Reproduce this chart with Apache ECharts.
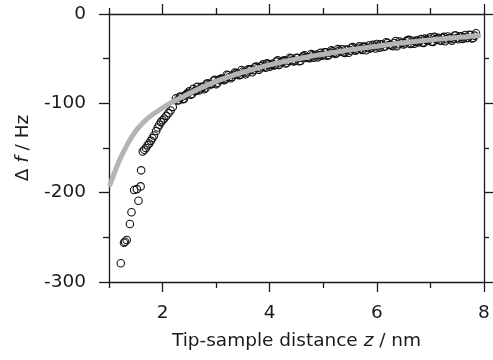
<!DOCTYPE html>
<html>
<head>
<meta charset="utf-8">
<script src="https://cdn.jsdelivr.net/npm/echarts@6/dist/echarts.min.js"></script>
<style>html,body{margin:0;padding:0;background:#fff;}#c{width:493px;height:360px;}</style>
</head>
<body>
<div id="c"></div>
<script>
// Measured Δf data (z in nm, Δf in Hz)
const nearZ = [1.22,1.28,1.30,1.33,1.39,1.42,1.47,1.52,1.55,1.59,1.60,1.63,1.66,1.69,1.72,1.75,1.78,1.81,1.84,1.88,1.91,1.94,1.97,2.00,2.03,2.07,2.11,2.15,2.19];
const nearDf = [-279,-256,-255,-253,-235,-222,-197,-196,-209,-193,-175,-154,-152,-150,-147,-145,-142,-139,-136,-131,-127,-124,-121,-119,-117,-114,-111,-108,-104];

const farZ = [2.25,2.30,2.35,2.40,2.45,2.50,2.55,2.60,2.65,2.70,2.75,2.80,2.85,2.90,2.95,3.00,3.05,3.10,3.15,3.20,3.25,3.30,3.35,3.40,3.45,3.50,3.55,3.60,3.65,3.70,3.75,3.80,3.85,3.90,3.95,4.00,4.05,4.10,4.15,4.20,4.25,4.30,4.35,4.40,4.45,4.50,4.55,4.60,4.65,4.70,4.75,4.80,4.85,4.90,4.95,5.00,5.05,5.10,5.15,5.20,5.25,5.30,5.35,5.40,5.45,5.50,5.55,5.60,5.65,5.70,5.75,5.80,5.85,5.90,5.95,6.00,6.05,6.10,6.15,6.20,6.25,6.30,6.35,6.40,6.45,6.50,6.55,6.60,6.65,6.70,6.75,6.80,6.85,6.90,6.95,7.00,7.05,7.10,7.15,7.20,7.25,7.30,7.35,7.40,7.45,7.50,7.55,7.60,7.65,7.70,7.75,7.80,7.85];
const farDf = [-94.5,-96.5,-93,-95,-89.5,-86.5,-89.5,-86.5,-81.6,-84.3,-81.9,-83,-77.8,-79,-74.8,-78.5,-73.9,-72.3,-74.1,-68,-70.5,-70.5,-65.5,-67,-68.1,-64.3,-67.4,-62,-62.1,-62.8,-58.9,-62.5,-58.3,-59,-55.3,-59,-55.8,-57.1,-51.9,-55.2,-52.5,-55.4,-52.3,-49.7,-53.1,-49,-52.9,-48.8,-46.2,-49.1,-49.5,-46,-46.5,-48.5,-43.5,-46,-43,-46,-40.5,-43.5,-44,-41,-39.5,-43.5,-40,-41,-37.1,-41.2,-37.8,-38.9,-36.5,-40.6,-35.2,-37.8,-36.4,-33.5,-37.6,-34.2,-36.3,-32.4,-34.5,-36.1,-30.3,-33.9,-32.1,-34.2,-30.4,-29,-32.7,-33.3,-29.5,-30.2,-31.9,-27.6,-30.3,-26,-31.2,-27.9,-26.7,-29.9,-25.6,-28.3,-27.1,-29.8,-24.1,-26.8,-25,-27.8,-23.5,-26.8,-23.5,-26.8,-21.5];

const farZ2 = [2.275,2.325,2.375,2.425,2.475,2.525,2.575,2.625,2.675,2.725,
  2.775,2.825,2.875,2.925,2.975,3.025,3.075,3.125,3.175,3.225,
  3.275,3.325,3.375,3.425,3.475,3.525,3.575,3.625,3.675,3.725,
  3.775,3.825,3.875,3.925,3.975,4.025,4.075,4.125,4.175,4.225,
  4.275,4.325,4.375,4.425,4.475,4.525,4.575,4.625,4.675,4.725,
  4.775,4.825,4.875,4.925,4.975,5.025,5.075,5.125,5.175,5.225,
  5.275,5.325,5.375,5.425,5.475,5.525,5.575,5.625,5.675,5.725,
  5.775,5.825,5.875,5.925,5.975,6.025,6.075,6.125,6.175,6.225,
  6.275,6.325,6.375,6.425,6.475,6.525,6.575,6.625,6.675,6.725,
  6.775,6.825,6.875,6.925,6.975,7.025,7.075,7.125,7.175,7.225,
  7.275,7.325,7.375,7.425,7.475,7.525,7.575,7.625,7.675,7.725,
  7.775,7.825];
const farDf2 = [-96.8,-92.3,-95.3,-90.8,-88.3,-90.3,-83.8,-85.8,-85.5,-81.6,
  -84.2,-77.9,-78.7,-78.4,-73.7,-77,-72.9,-73.2,-73.1,-68.5,
  -72,-68,-66,-68.6,-62.7,-65.4,-65.5,-62,-65.2,-59.4,
  -60.5,-60.7,-56.4,-60.2,-56.4,-57.2,-57.5,-53.3,-57,-53.4,
  -51.7,-54.6,-49,-51.9,-52.3,-49.2,-52.6,-47,-48.4,-48.8,
  -44.8,-48.8,-45.3,-46.3,-46.8,-42.8,-46.8,-43.3,-41.8,-44.8,
  -39.3,-42.3,-42.8,-39.8,-43.3,-37.8,-39.4,-40,-36.1,-40.2,
  -36.8,-37.9,-38.5,-34.6,-38.7,-35.3,-33.9,-37,-31.6,-34.7,
  -35.3,-32.5,-36.1,-30.8,-32.4,-33.1,-29.2,-33.4,-30,-31.2,
  -31.9,-28.1,-32.3,-29,-27.7,-30.9,-25.6,-28.8,-29.6,-26.8,
  -30.5,-25.2,-27,-27.7,-24,-28.2,-24.9,-26.2,-26.9,-23.2,
  -27.4,-24.2];

// Fitted curve
const fitZ = [1.02,1.1,1.2,1.3,1.4,1.5,1.6,1.7,1.8,1.9,2.0,2.1,2.2,2.4,2.6,2.8,3.0,3.2,3.4,3.6,3.8,4.0,4.25,4.5,4.75,5.0,5.25,5.5,5.75,6.0,6.25,6.5,6.75,7.0,7.25,7.5,7.75,7.9];
const fitDf = [-191,-178,-163,-151,-140,-131,-124,-118,-113,-109,-105,-101.5,-98,-92,-86,-80.5,-75.5,-71,-67,-63.5,-60,-57,-53.5,-50.5,-47.5,-45,-42.5,-40,-38,-36,-34,-32.2,-30.5,-29,-27.6,-26.3,-25,-24.3];

// Tick values
const xMajor = [2,4,6,8];
const xMinor = [1,3,5,7];
const yMajor = [-300,-200,-100,0];
const yMinor = [-250,-150,-50];

const FONT = '"DejaVu Sans", "Liberation Sans", Arial, sans-serif';
const FS = 18.5;
const INK = '#1a1a1a';
const lineStyle = {color: INK, width: 1.3};

const scatterData = nearZ.map((z,i)=>[z,nearDf[i]])
  .concat(farZ.map((z,i)=>[z,farDf[i]]))
  .concat(farZ2.map((z,i)=>[z,farDf2[i]]));
const fitData = fitZ.map((z,i)=>[z,fitDf[i]]);

const gridPos = {left:109, right:9, top:14, bottom:78};

function xAx(grid, pos, ticks, len, showLine, labels, extra){
  return Object.assign({
    type:'value', gridIndex:grid, position:pos, min:1, max:8,
    axisLine:{show:showLine, onZero:false, lineStyle},
    axisTick:{show:true, inside:false, length:len, customValues:ticks, lineStyle},
    axisLabel:labels ? {show:true, customValues:labels, margin:22, fontSize:FS, color:INK, fontFamily:FONT} : {show:false},
    splitLine:{show:false}
  }, extra||{});
}
function yAx(grid, pos, ticks, len, showLine, labels, extra){
  return Object.assign({
    type:'value', gridIndex:grid, position:pos, min:-300, max:0,
    axisLine:{show:showLine, onZero:false, lineStyle},
    axisTick:{show:true, inside:false, length:len, customValues:ticks, lineStyle},
    axisLabel:labels ? {show:true, customValues:labels, margin:23, fontSize:FS, color:INK, fontFamily:FONT} : {show:false},
    splitLine:{show:false}
  }, extra||{});
}

const chart = echarts.init(document.getElementById('c'), null, {renderer:'canvas'});
chart.setOption({
  animation:false,
  backgroundColor:'#fff',
  grid:[Object.assign({}, gridPos), Object.assign({}, gridPos)],
  xAxis:[
    xAx(0,'bottom',xMajor,10,true,xMajor,{
      name:'Tip-sample distance {i|z} / nm', nameLocation:'middle', nameGap:50,
      nameTextStyle:{fontSize:FS, color:INK, fontFamily:FONT, rich:{i:{fontStyle:'italic', fontSize:FS, color:INK, fontFamily:FONT}}}
    }),
    xAx(0,'top',xMajor,10,true,null),
    xAx(1,'bottom',xMinor,6,false,null),
    xAx(1,'top',xMinor,6,false,null)
  ],
  yAxis:[
    yAx(0,'left',yMajor,10,true,yMajor,{
      name:'\u0394 {i|f} / Hz', nameLocation:'middle', nameGap:70, nameRotate:90,
      nameTextStyle:{fontSize:FS, color:INK, fontFamily:FONT, rich:{i:{fontStyle:'italic', fontSize:FS, color:INK, fontFamily:FONT}}}
    }),
    yAx(0,'right',yMajor,9,true,null),
    yAx(1,'left',yMinor,6,false,null),
    yAx(1,'right',yMinor,5,false,null)
  ],
  series:[
    {
      type:'scatter', xAxisIndex:0, yAxisIndex:0, data:scatterData,
      symbol:'circle', symbolSize:7.5,
      itemStyle:{color:'rgba(0,0,0,0)', borderColor:'#111', borderWidth:1.1, opacity:1},
      emphasis:{disabled:true}
    },
    {
      type:'line', xAxisIndex:0, yAxisIndex:0, data:fitData,
      showSymbol:false, symbol:'none', smooth:0.3,
      lineStyle:{color:'#b4b4b4', width:5, cap:'round'},
      emphasis:{disabled:true}
    }
  ]
});
</script>
</body>
</html>
